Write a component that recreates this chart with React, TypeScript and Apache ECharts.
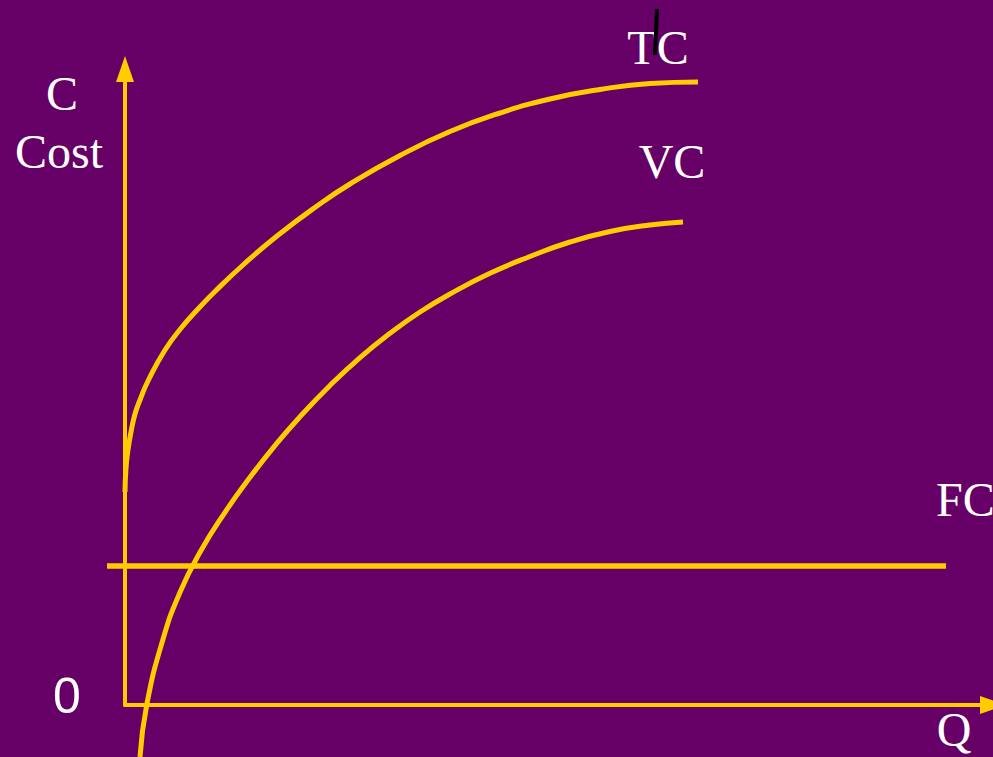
import React, { useEffect, useRef } from "react";
import * as echarts from "echarts";

// Quantity (x) and cost (y) in chart units; origin at the corner of the axes
const tcQ = [0, 1, 3, 6, 10, 15, 23, 40, 57, 73, 90, 118, 152, 192, 225, 275, 325, 375, 425, 475, 525, 573];
const tcC = [213, 237, 255, 273, 291, 305, 324, 355, 378, 396, 413.5, 440, 469, 499, 521, 549.5, 573.5, 592, 606, 615.5, 621.5, 623];

const vcQ = [15, 21.7, 38, 55, 75, 100, 125, 150, 175, 205, 235, 265, 295, 325, 365, 405, 445, 485, 525, 558];
const vcC = [-52, 0, 65.8, 112.7, 152.7, 192.7, 227.7, 259.5, 288.3, 319.5, 347.4, 371.7, 393, 411, 431.7, 448.5, 463, 473.5, 480, 483];

const fcQ = [-18, 821];
const fcC = [139, 139];

const labelTC = "TC";
const labelVC = "VC";
const labelFC = "FC";
const labelQ = "Q";
const labelC = "C";
const labelCost = "Cost";
const labelZero = "0";

const BG = "#660066";
const YELLOW = "#FFCC00";
const SERIF = "'Liberation Serif', 'Times New Roman', serif";
const SANS = "'Liberation Sans', Arial, sans-serif";

const zip = (a: number[], b: number[]) => a.map((v, i) => [v, b[i]]);

export default function App() {
  const ref = useRef<HTMLDivElement>(null);
  useEffect(() => {
    if (!ref.current) return;
    const chart = echarts.init(ref.current, undefined, { renderer: "svg" });
    const hidden = {
      type: "value" as const,
      axisLine: { show: false },
      axisTick: { show: false },
      axisLabel: { show: false },
      splitLine: { show: false },
    };
    const arrowAxis = {
      type: "value" as const,
      axisLine: {
        show: true,
        onZero: false,
        symbol: ["none", "triangle"],
        symbolSize: [18, 26],
        lineStyle: { color: YELLOW, width: 4 },
      },
      axisTick: { show: false },
      axisLabel: { show: false },
      splitLine: { show: false },
    };
    const textStyle = (font: string, size: number) => ({
      fill: "#ffffff",
      fontFamily: font,
      fontSize: size,
      align: "center",
      verticalAlign: "middle",
    });
    const curve = { type: "line", showSymbol: false, xAxisIndex: 0, yAxisIndex: 0, z: 3 };
    chart.setOption({
      animation: false,
      backgroundColor: BG,
      grid: [
        { left: 0, right: 0, top: 0, bottom: 0 },
        { left: 125, right: 0, top: 69, bottom: 52 },
      ],
      xAxis: [
        { ...hidden, gridIndex: 0, min: -125, max: 868 },
        { ...arrowAxis, gridIndex: 1, min: 0, max: 868 },
      ],
      yAxis: [
        { ...hidden, gridIndex: 0, min: -52, max: 705 },
        { ...arrowAxis, gridIndex: 1, min: 0, max: 636 },
      ],
      series: [
        {
          ...curve,
          name: "TC",
          data: zip(tcQ, tcC),
          smooth: 0.5,
          lineStyle: { color: YELLOW, width: 5, cap: "butt" },
        },
        {
          ...curve,
          name: "VC",
          data: zip(vcQ, vcC),
          smooth: 0.5,
          lineStyle: { color: YELLOW, width: 5, cap: "butt" },
        },
        {
          ...curve,
          name: "FC",
          data: zip(fcQ, fcC),
          lineStyle: { color: YELLOW, width: 5.5, cap: "butt" },
        },
      ],
      graphic: [
        { type: "text", x: 62, y: 93, style: { text: labelC, ...textStyle(SERIF, 48) } },
        { type: "text", x: 59, y: 151, style: { text: labelCost, ...textStyle(SERIF, 48) } },
        { type: "text", x: 658, y: 47, style: { text: labelTC, ...textStyle(SERIF, 48) } },
        { type: "text", x: 672, y: 161, style: { text: labelVC, ...textStyle(SERIF, 48) } },
        {
          type: "text",
          x: 936,
          y: 499,
          style: { text: labelFC, ...textStyle(SERIF, 48), align: "left" },
        },
        { type: "text", x: 954, y: 729, style: { text: labelQ, ...textStyle(SERIF, 48) } },
        { type: "text", x: 67, y: 696, style: { text: labelZero, ...textStyle(SANS, 50) } },
        {
          type: "line",
          shape: { x1: 657, y1: 9, x2: 655, y2: 55 },
          style: { stroke: "#000000", lineWidth: 4 },
          z: 10,
        },
      ],
    });
    return () => chart.dispose();
  }, []);
  return (
    <div
      ref={ref}
      style={{ position: "fixed", left: 0, top: 0, width: 993, height: 757 }}
    />
  );
}
